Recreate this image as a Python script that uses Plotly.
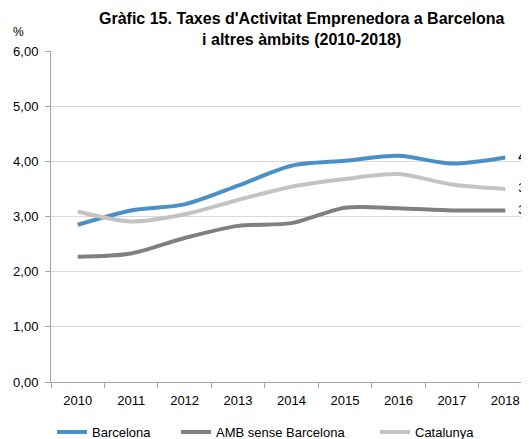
import plotly.graph_objects as go

years = ["2010", "2011", "2012", "2013", "2014", "2015", "2016", "2017", "2018"]
barcelona = [2.85, 3.11, 3.22, 3.56, 3.92, 4.01, 4.10, 3.96, 4.07]
amb = [2.27, 2.33, 2.61, 2.83, 2.88, 3.16, 3.15, 3.11, 3.11]
catalunya = [3.09, 2.91, 3.04, 3.30, 3.54, 3.68, 3.77, 3.58, 3.50]

series = [
    ("Barcelona", barcelona, "#4a8fc5", "legend", "bold"),
    ("AMB sense Barcelona", amb, "#808080", "legend2", "normal"),
    ("Catalunya", catalunya, "#c3c3c3", "legend3", "normal"),
]

ytickvals = [0, 1, 2, 3, 4, 5, 6]
yticktext = ["0,00", "1,00", "2,00", "3,00", "4,00", "5,00", "6,00"]

FONT = "Liberation Sans, Arial, sans-serif"

# page body has an 8px default margin; compensate in layout
OFF = 8
FW, FH = 529, 439
L = 51 - OFF
T = 51 - OFF
B = FH - (382 - OFF)
R = FW - (532 - OFF)
W = FW - L - R
H = FH - T - B


def px_x(p):
    return (p - OFF - L) / W


def px_y(p):
    return (FH - B - (p - OFF)) / H


fig = go.Figure()
for name, vals, col, leg, wt in series:
    fig.add_trace(go.Scatter(
        x=years, y=vals, name=name, mode="lines", legend=leg,
        line=dict(color=col, width=4, shape="spline", smoothing=0.8),
    ))
for name, vals, col, leg, wt in series:
    fig.add_trace(go.Scatter(
        x=[years[-1]], y=[vals[-1]], mode="text", showlegend=False,
        text=["\u2003" + f"{vals[-1]:.2f}".replace(".", ",")],
        textposition="middle right", cliponaxis=False, hoverinfo="skip",
        textfont=dict(size=13, color="#000000", family=FONT, weight=wt),
    ))

annots = [
    dict(text="Gràfic 15. Taxes d'Activitat Emprenedora a Barcelona<br>i altres àmbits (2010-2018)",
         xref="paper", yref="paper", x=px_x(302), y=px_y(29),
         xanchor="center", yanchor="middle", showarrow=False,
         font=dict(size=16, color="#000000", family=FONT, weight="bold")),
    dict(text="%", xref="paper", yref="paper", x=px_x(18), y=px_y(32),
         xanchor="center", yanchor="middle", showarrow=False,
         font=dict(size=12, color="#000000", family=FONT)),
]

legfont = dict(size=13, color="#000000", family=FONT)


def leg(xp):
    return dict(orientation="h", x=px_x(xp), xanchor="left", y=px_y(432),
                yanchor="middle", font=legfont, bgcolor="rgba(0,0,0,0)",
                borderwidth=0)


fig.update_layout(
    width=FW, height=FH,
    margin=dict(l=L, r=R, t=T, b=B, autoexpand=False),
    paper_bgcolor="white", plot_bgcolor="white",
    font=dict(family=FONT, size=13, color="#000000"),
    showlegend=True,
    legend=leg(52), legend2=leg(176), legend3=leg(375),
    annotations=annots,
)
fig.update_xaxes(
    type="category", range=[-0.5, 8.5], automargin=False,
    showline=True, linecolor="#a6a6a6", linewidth=1,
    ticks="outside", tickson="boundaries", ticklen=5, tickcolor="#a6a6a6",
    showgrid=False, zeroline=False, ticklabelstandoff=6,
    tickfont=dict(size=13),
)
fig.update_yaxes(
    range=[0, 6], tickvals=ytickvals, ticktext=yticktext, automargin=False,
    showline=True, linecolor="#a6a6a6", linewidth=1,
    ticks="outside", ticklen=5, tickcolor="#a6a6a6", ticklabelstandoff=4,
    showgrid=True, gridcolor="#d9d9d9", gridwidth=1, zeroline=False,
    tickfont=dict(size=13),
)

fig.write_html("out.html")
